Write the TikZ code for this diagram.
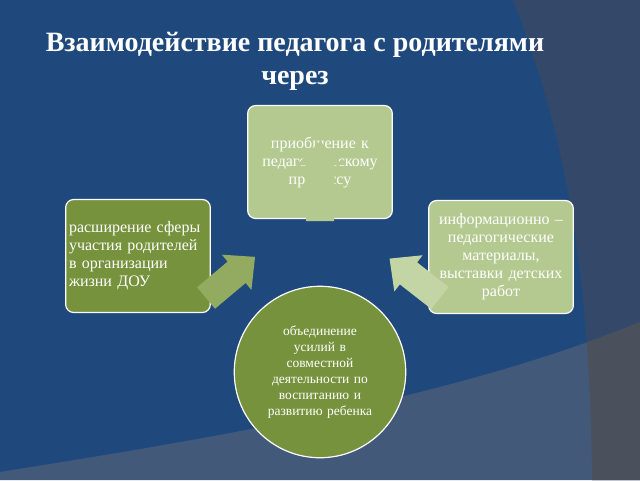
\documentclass[tikz,border=0pt]{standalone}
\usepackage{fontspec}
\setmainfont{Liberation Serif}
\usetikzlibrary{positioning, calc}
\definecolor{bgblue}{HTML}{1F497D}
\definecolor{bgside}{HTML}{34496A}
\definecolor{bgband}{HTML}{43597A}
\definecolor{bgcorner}{HTML}{4A505C}
\definecolor{darkgreen}{HTML}{76923C}
\definecolor{lightgreen}{HTML}{B4C98F}
\tikzset{
    panel/.style={draw=white, line width=1.2pt, rounded corners=8pt, minimum width=143pt, minimum height=113pt, text width=138pt, align=center, text=white, font=\fontsize{16}{18}\selectfont},
}
% block arrow along +x: length #1, shaft half width 14, head half width 22, head length 24
\newcommand{\blockarr}[1]{(0,-14) -- ({#1-24},-14) -- ({#1-24},-23) -- (#1,0) -- ({#1-24},23) -- ({#1-24},14) -- (0,14) -- cycle}
\begin{document}
\begin{tikzpicture}[x=1pt, y=-1pt]
        \useasboundingbox (0,0) rectangle (640,480);
        %Background
        \fill[bgblue] (0,0) rectangle (640,480);
        \begin{scope}
            \clip (0,0) rectangle (640,480);
            \fill[bgside] (513,0) .. controls (560,120) and (590,250) .. (592,480) -- (640,480) -- (640,0) -- cycle;
            \fill[bgband] (0,472) .. controls (200,440) and (450,400) .. (640,322) -- (640,480) -- (0,480) -- cycle;
            \clip (0,472) .. controls (200,440) and (450,400) .. (640,322) -- (640,480) -- (0,480) -- cycle;
            \fill[bgcorner] (513,0) .. controls (560,120) and (590,250) .. (592,480) -- (640,480) -- (640,0) -- cycle;
        \end{scope}
        %Title
        \node[text=white, font=\bfseries\fontsize{28}{33}\selectfont, align=center] (title) at (295,61) {Взаимодействие педагога с родителями\\через};
        %Panels
        \node[panel, fill=lightgreen] (join) at (320,162) {приобщение к\\педагогическому\\процессу};
        \node[panel, fill=darkgreen, align=left] (wide) at (138,256) {расширение сферы участия родителей в организации жизни ДОУ};
        \node[panel, fill=lightgreen] (info) at (501,257) {информационно –\\педагогические\\материалы,\\выставки детских\\работ};
        \node[circle, draw=white, line width=1.2pt, fill=darkgreen, minimum size=152pt, text width=134pt, align=center, text=white, font=\fontsize{13.5}{16}\selectfont] (unite) at (320,372) {объединение\\усилий в\\совместной\\деятельности по\\воспитанию и\\развитию ребенка};
        %Arrows
        \coordinate (downstart) at ($(join.south)+(0,2)$);
        \coordinate (leftstart) at (206,298);
        \coordinate (rightstart) at (440,298);
        \fill[lightgreen, shift={(downstart)}, rotate=90] \blockarr{80};
        \fill[darkgreen!55!lightgreen, shift={(leftstart)}, rotate=40] \blockarr{64};
        \fill[lightgreen!80!white, shift={(rightstart)}, rotate=142] \blockarr{64};
\end{tikzpicture}
\end{document}
